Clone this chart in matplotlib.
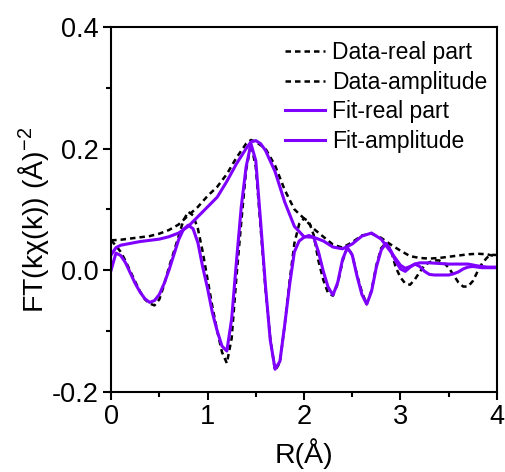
import matplotlib
matplotlib.use("Agg")
import matplotlib.pyplot as plt
from matplotlib.ticker import MultipleLocator

plt.rcParams['font.family'] = ['Liberation Sans', 'DejaVu Sans']
plt.rcParams['mathtext.fontset'] = 'custom'
plt.rcParams['mathtext.rm'] = 'Liberation Sans'
plt.rcParams['mathtext.it'] = 'Liberation Sans'

# ---- data ----
r_data_real = [0.00, 0.05, 0.10, 0.15, 0.20, 0.25, 0.30, 0.35, 0.40, 0.45, 0.50, 0.55, 0.60, 0.65,
               0.70, 0.75, 0.80, 0.85, 0.90, 0.95, 1.00, 1.05, 1.10, 1.15, 1.20, 1.25, 1.30, 1.35,
               1.40, 1.45, 1.50, 1.55, 1.60, 1.65, 1.70, 1.75, 1.80, 1.85, 1.90, 1.95, 2.00, 2.05,
               2.10, 2.15, 2.20, 2.25, 2.30, 2.35, 2.40, 2.45, 2.50, 2.55, 2.60, 2.65, 2.70, 2.75,
               2.80, 2.85, 2.90, 2.95, 3.00, 3.05, 3.10, 3.15, 3.20, 3.25, 3.30, 3.35, 3.40, 3.45,
               3.50, 3.55, 3.60, 3.65, 3.70, 3.75, 3.80, 3.85, 3.90, 3.95, 4.00]
data_real = [0.049, 0.040, 0.030, 0.015, -0.002, -0.019, -0.035, -0.048, -0.055, -0.058, -0.048,
             -0.024, 0.005, 0.030, 0.056, 0.082, 0.096, 0.090, 0.068, 0.030, -0.015, -0.060,
             -0.100, -0.135, -0.153, -0.112, -0.010, 0.080, 0.165, 0.207, 0.170, 0.070, -0.030,
             -0.112, -0.165, -0.152, -0.090, -0.019, 0.044, 0.076, 0.085, 0.080, 0.058, 0.015,
             -0.016, -0.038, -0.042, -0.022, 0.015, 0.038, 0.025, -0.008, -0.036, -0.056, -0.033,
             0.008, 0.036, 0.045, 0.034, 0.005, -0.012, -0.022, -0.024, -0.015, -0.003, 0.008,
             0.013, 0.016, 0.016, 0.012, 0.004, -0.008, -0.020, -0.027, -0.027, -0.018, -0.002,
             0.012, 0.021, 0.025, 0.025]

r_data_amp = [0.00, 0.10, 0.20, 0.30, 0.40, 0.50, 0.60, 0.70, 0.80, 0.90, 1.00, 1.10, 1.20, 1.30,
              1.40, 1.45, 1.50, 1.60, 1.70, 1.80, 1.90, 2.00, 2.10, 2.20, 2.30, 2.40, 2.50, 2.60,
              2.70, 2.80, 2.90, 3.00, 3.10, 3.20, 3.30, 3.40, 3.50, 3.60, 3.70, 3.80, 3.90, 4.00]
data_amp = [0.049, 0.050, 0.052, 0.054, 0.056, 0.060, 0.066, 0.075, 0.090, 0.104, 0.122, 0.137,
            0.158, 0.185, 0.208, 0.214, 0.211, 0.200, 0.172, 0.132, 0.100, 0.085, 0.068, 0.055,
            0.042, 0.037, 0.046, 0.057, 0.060, 0.053, 0.042, 0.032, 0.023, 0.020, 0.019, 0.020,
            0.022, 0.024, 0.026, 0.027, 0.026, 0.022]

r_fit_real = r_data_real
fit_real = [0.000, 0.028, 0.024, 0.012, -0.005, -0.022, -0.036, -0.047, -0.053, -0.050, -0.040,
            -0.022, 0.000, 0.025, 0.050, 0.067, 0.074, 0.068, 0.045, 0.005, -0.030, -0.070,
            -0.100, -0.125, -0.133, -0.080, 0.015, 0.105, 0.170, 0.208, 0.180, 0.080, -0.025,
            -0.115, -0.163, -0.150, -0.090, -0.025, 0.030, 0.048, 0.054, 0.057, 0.054, 0.030,
            -0.002, -0.028, -0.041, -0.020, 0.018, 0.037, 0.025, -0.010, -0.040, -0.056, -0.035,
            0.005, 0.033, 0.044, 0.032, 0.015, 0.002, -0.002, 0.005, 0.010, 0.006, -0.002,
            -0.007, -0.008, -0.008, -0.008, -0.008, -0.006, -0.003, 0.002, 0.005, 0.006, 0.005,
            0.004, 0.004, 0.004, 0.004]

r_fit_amp = [0.00, 0.05, 0.10, 0.20, 0.30, 0.40, 0.50, 0.60, 0.70, 0.80, 0.90, 1.00, 1.10, 1.20,
             1.30, 1.40, 1.45, 1.50, 1.55, 1.60, 1.70, 1.80, 1.90, 2.00, 2.10, 2.20, 2.30, 2.40,
             2.50, 2.60, 2.70, 2.80, 2.90, 3.00, 3.05, 3.10, 3.15, 3.20, 3.30, 3.40, 3.50, 3.60,
             3.70, 3.80, 3.90, 4.00]
fit_amp = [0.025, 0.037, 0.041, 0.044, 0.047, 0.049, 0.051, 0.055, 0.061, 0.072, 0.088, 0.104,
           0.120, 0.146, 0.175, 0.200, 0.211, 0.213, 0.208, 0.197, 0.162, 0.112, 0.072, 0.055,
           0.054, 0.048, 0.038, 0.035, 0.043, 0.056, 0.061, 0.051, 0.030, 0.008, 0.003, 0.006,
           0.010, 0.012, 0.012, 0.011, 0.010, 0.010, 0.010, 0.007, 0.005, 0.005]

labels = ['Data-real part', 'Data-amplitude', 'Fit-real part', 'Fit-amplitude']
x_ticks = [0, 1, 2, 3, 4]
y_ticks = [-0.2, 0.0, 0.2, 0.4]

purple = '#7F00FF'

fig = plt.figure(figsize=(5.05, 4.72), dpi=100)
ax = fig.add_axes([0.220, 0.170, 0.764, 0.773])

dash = (0, (2.2, 1.6))
ax.plot(r_data_real, data_real, color='black', lw=1.8, linestyle=dash, label=labels[0])
ax.plot(r_data_amp, data_amp, color='black', lw=1.8, linestyle=dash, label=labels[1])
ax.plot(r_fit_real, fit_real, color=purple, lw=2.2, label=labels[2])
ax.plot(r_fit_amp, fit_amp, color=purple, lw=2.2, label=labels[3])

ax.set_xlim(0, 4)
ax.set_ylim(-0.2, 0.4)
ax.set_xticks(x_ticks)
ax.set_yticks(y_ticks)
ax.set_xticklabels([str(v) for v in x_ticks])
ax.set_yticklabels(['%.1f' % v for v in y_ticks])
ax.xaxis.set_minor_locator(MultipleLocator(0.5))
ax.yaxis.set_minor_locator(MultipleLocator(0.1))
ax.tick_params(which='major', direction='out', length=6, width=1.5, labelsize=19.5, pad=3)
ax.tick_params(which='minor', direction='out', length=3.5, width=1.5)
for s in ax.spines.values():
    s.set_linewidth(1.5)

ax.set_xlabel('R(Å)', fontsize=20.5, labelpad=6)
ax.set_ylabel('FT(kχ(k)) (Å)$^{-2}$', fontsize=20.5, labelpad=2)
ax.yaxis.set_label_coords(-0.155, 0.47)

leg = ax.legend(loc='upper left', bbox_to_anchor=(0.451, 0.96), frameon=False, fontsize=16.5,
                handlelength=1.75, handletextpad=0.3, labelspacing=0.28, borderaxespad=0,
                borderpad=0)

fig.savefig('out.png', dpi=100)
